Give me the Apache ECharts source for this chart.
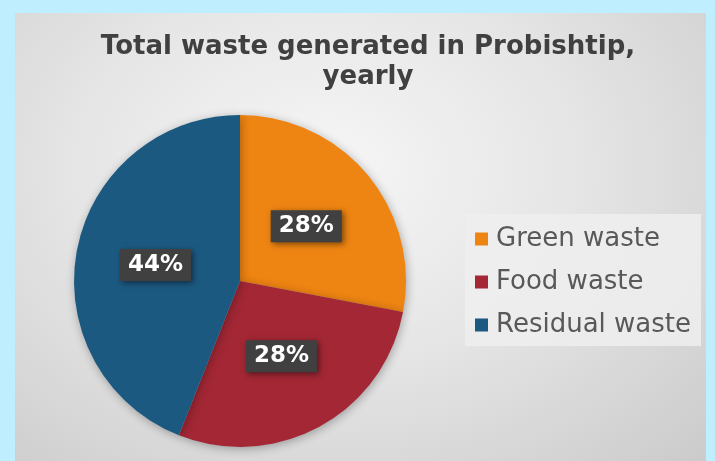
<!DOCTYPE html>
<html><head><meta charset="utf-8">
<script src="https://cdn.jsdelivr.net/npm/echarts@6/dist/echarts.min.js"></script>
<style>
html,body{margin:0;padding:0;width:715px;height:461px;background:#bfefff;overflow:hidden}
#panel{position:absolute;left:15px;top:13px;width:691px;height:448px;
background:radial-gradient(ellipse at 45% 35%, #f6f6f6 0%, #e6e6e6 45%, #cbcbcb 100%);}
#c{position:absolute;left:0;top:0;width:715px;height:461px}
</style></head>
<body><div id="panel"></div><div id="c"></div>
<script>
const categories = ["Green waste", "Food waste", "Residual waste"];
const values = [28, 28, 44];
const colors = ["#EE8412", "#A32735", "#1C5981"];
const titleText = "Total waste generated in Probishtip,\nyearly";

const chart = echarts.init(document.getElementById('c'), null, {renderer:'canvas'});
chart.setOption({
  backgroundColor: 'transparent',
  animation: false,
  title: {
    text: titleText,
    left: 363, top: 27, textAlign: 'center',
    textStyle: {fontFamily: 'DejaVu Sans', fontWeight: 'bold', fontSize: 26, color: '#404040', lineHeight: 30}
  },
  legend: {
    orient: 'vertical', left: 465, top: 214,
    backgroundColor: 'rgba(238,238,238,0.85)',
    padding: [10, 10, 6, 10],
    itemWidth: 13, itemHeight: 13, itemGap: 13,
    icon: 'rect',
    textStyle: {fontFamily: 'DejaVu Sans', fontSize: 26, lineHeight: 30, color: '#595959', padding: [0,0,0,3]},
    data: categories
  },
  series: [{
    type: 'pie',
    center: [240, 281], radius: 166,
    startAngle: 90, clockwise: true,
    itemStyle: {shadowBlur: 10, shadowColor: 'rgba(0,0,0,0.3)', shadowOffsetX: 1, shadowOffsetY: 2},
    label: {
      position: 'inside',
      formatter: p => p.value + '%',
      color: '#fff', fontFamily: 'DejaVu Sans', fontWeight: 'bold', fontSize: 23,
      backgroundColor: '#404040', padding: [5, 8, 4, 8],
      shadowBlur: 6, shadowColor: 'rgba(0,0,0,0.5)', shadowOffsetX: 2, shadowOffsetY: 2
    },
    labelLine: {show: false},
    emphasis: {disabled: true},
    data: categories.map((n, i) => ({name: n, value: values[i], itemStyle: {color: colors[i]}}))
  }]
});
</script></body></html>
